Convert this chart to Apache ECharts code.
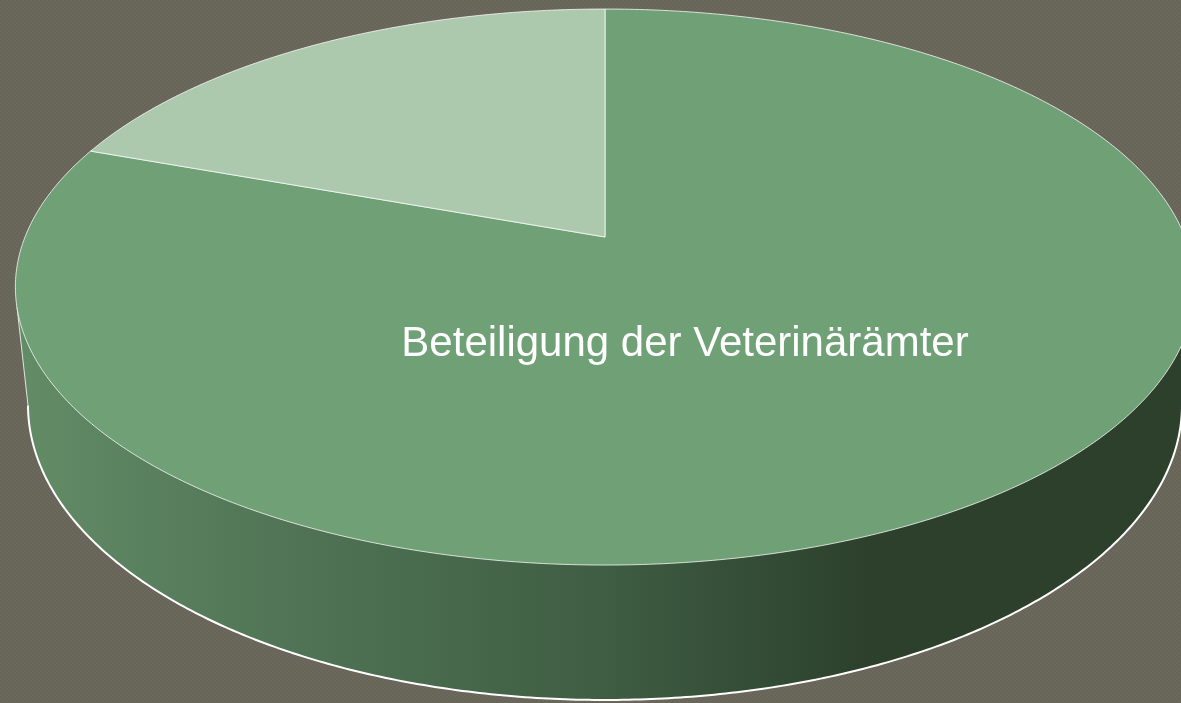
<!DOCTYPE html>
<html>
<head>
<meta charset="utf-8">
<style>
  html, body { margin: 0; padding: 0; background: #6a675b; }
  #chart { width: 1181px; height: 703px; }
</style>
<script src="https://cdn.jsdelivr.net/npm/echarts@6/dist/echarts.min.js"></script>
</head>
<body>
<div id="chart"></div>
<script>
// values (share of the disc in percent)
var sliceNames = ["Beteiligung der Veterinärämter", "Keine Beteiligung"];
var sliceValues = [80.5, 19.5];
var sliceColors = ["#70a176", "#acc9ad"];

// perspective disc: top face and lower rim
var apexX = 605, apexY = 237;
var faceA = 580, faceB = 269, faceK = 0.18;
var topCy = 287, topRx = 590, topRy = 278;
var rimCy = 405, rimRx = 577, rimRy = 295;

function facePoint(theta) {
  var d = 1 + faceK * Math.cos(theta);
  return [apexX + faceA * Math.sin(theta) / d, apexY - faceB * Math.cos(theta) / d];
}
function rimPoint(cy, rx, ry, t) {
  return [apexX + rx * Math.cos(t), cy + ry * Math.sin(t)];
}

function renderSlice(params, api) {
  var total = sliceValues.reduce(function (a, b) { return a + b; }, 0);
  var before = 0;
  for (var i = 0; i < params.dataIndex; i++) before += sliceValues[i];
  var start = before / total * Math.PI * 2;
  var end = (before + api.value(0)) / total * Math.PI * 2;
  var pts = [[apexX, apexY]];
  var steps = Math.ceil((end - start) / 0.01);
  for (var s = 0; s <= steps; s++) pts.push(facePoint(start + (end - start) * s / steps));
  var children = [{
    type: "polygon",
    shape: { points: pts },
    style: { fill: sliceColors[params.dataIndex], stroke: "rgba(255,255,255,0.75)", lineWidth: 1 }
  }];
  if (params.dataIndex === 0) {
    children.push({
      type: "text",
      z2: 10,
      style: {
        x: 685, y: 344, text: sliceNames[0], fill: "#ffffff",
        font: "42px 'Liberation Sans'", align: "center", verticalAlign: "middle"
      }
    });
  }
  return { type: "group", children: children };
}

function renderWall() {
  var edge = [];
  for (var t = 0; t <= Math.PI + 0.001; t += 0.01) edge.push(rimPoint(rimCy, rimRx, rimRy, t));
  var wall = [[apexX + topRx, topCy]].concat(edge, [[apexX - topRx, topCy]]);
  return {
    type: "group",
    children: [{
      type: "polygon",
      shape: { points: wall },
      style: {
        fill: new echarts.graphic.LinearGradient(20, 0, 870, 0, [
          { offset: 0, color: "#628c66" },
          { offset: 0.3, color: "#517556" },
          { offset: 0.68, color: "#3f5e43" },
          { offset: 1, color: "#2c402c" }
        ], true)
      }
    }, {
      type: "polyline",
      shape: { points: edge },
      style: { fill: null, stroke: "#ffffff", lineWidth: 2 }
    }, {
      type: "polyline",
      shape: { points: [[apexX - topRx + 2, topCy + 20], edge[edge.length - 1]] },
      style: { fill: null, stroke: "rgba(255,255,255,0.8)", lineWidth: 1 }
    }]
  };
}

// fine woven background of the slide
var weave = document.createElement("canvas");
weave.width = 4; weave.height = 4;
var wctx = weave.getContext("2d");
wctx.fillStyle = "#6c695c"; wctx.fillRect(0, 0, 4, 4);
wctx.fillStyle = "#676459"; wctx.fillRect(0, 0, 2, 2); wctx.fillRect(2, 2, 2, 2);

var chart = echarts.init(document.getElementById("chart"));
chart.setOption({
  animation: false,
  backgroundColor: { image: weave, repeat: "repeat" },
  series: [
    { type: "custom", coordinateSystem: "none", silent: true, z: 1, data: [[0]], renderItem: renderWall },
    {
      type: "custom", coordinateSystem: "none", silent: true, z: 2,
      data: sliceValues.map(function (v, i) { return { name: sliceNames[i], value: [v] }; }),
      renderItem: renderSlice
    }
  ]
});
</script>
</body>
</html>
